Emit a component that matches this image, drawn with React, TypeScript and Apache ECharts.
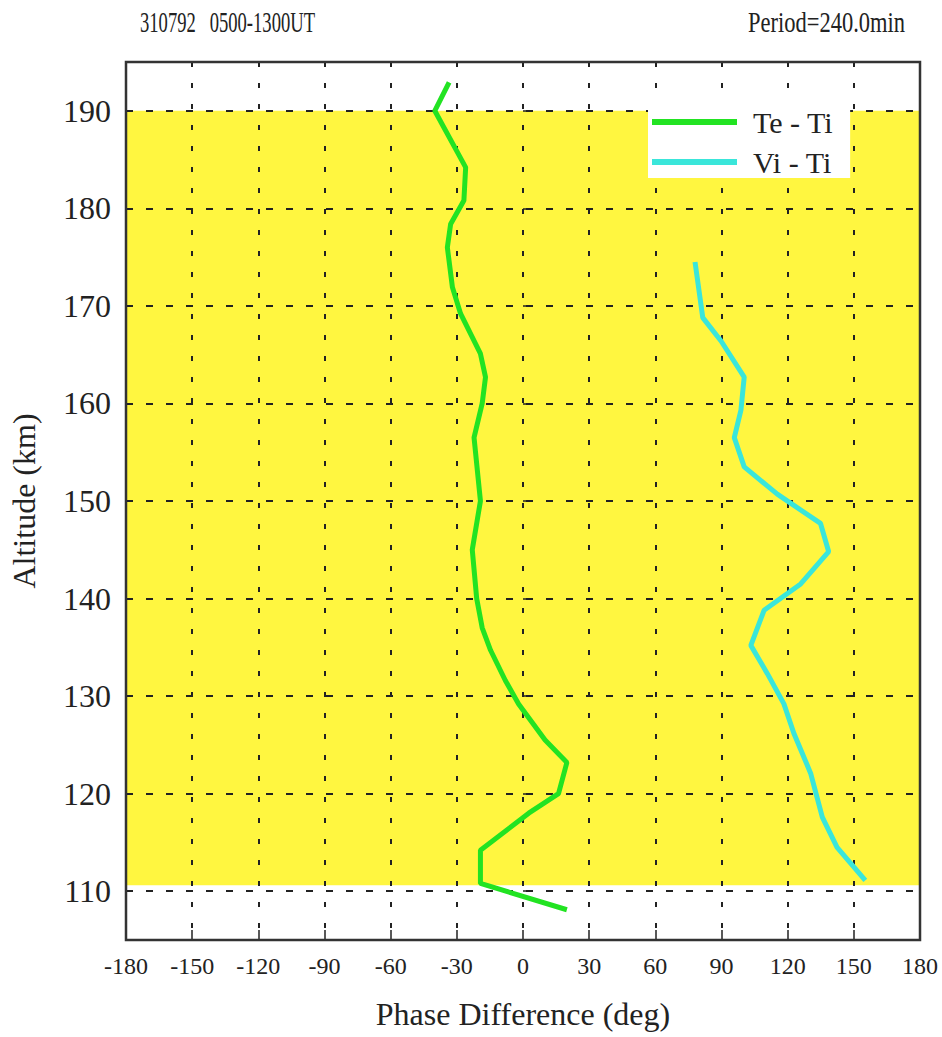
import React, { useEffect, useRef } from 'react';
import * as echarts from 'echarts';

// Altitudes (km) that carry ticks, labels and grid lines
const altitudeTicks = [110, 120, 130, 140, 150, 160, 170, 180, 190];

// Te - Ti phase difference profile (deg) against altitude (km)
const teTiPhase = [-33.5, -40, -26, -26.8, -32.8, -34.3, -32, -28.3, -19.3, -17, -18.5, -22.2, -19.3, -23, -21, -18.5, -14.7, -8, -2, 10, 19.9, 16.1, 2.6, -19.3, -19.3, 19.9];
const teTiAltitude = [192.9, 190, 184.2, 180.8, 178.4, 176, 171.9, 169.2, 165.1, 162.7, 160, 156.5, 150, 145, 140, 137, 134.7, 131.6, 129.2, 125.5, 123.2, 120, 118, 114.2, 110.8, 108.1];

// Vi - Ti phase difference profile (deg) against altitude (km)
const viTiPhase = [78, 81.5, 89.8, 100.3, 98.8, 95.8, 100.3, 115.3, 134.9, 138.6, 125.9, 109.3, 103.3, 110.8, 118.3, 122.8, 130.4, 135.7, 142.4, 155.2];
const viTiAltitude = [174.5, 168.8, 166.4, 162.7, 159.3, 156.5, 153.5, 150.7, 147.7, 144.8, 141.5, 138.8, 135.2, 132.3, 129.2, 126.2, 122.1, 117.6, 114.5, 111.1];

// Altitude range of the shaded band (km)
const bandAltitude = [110.6, 190];

const GREEN = '#22e322';
const CYAN = '#3ae6da';
const YELLOW = '#fff640';
const INK = '#222';
const SERIF = 'Liberation Serif';

export default function App() {
  const ref = useRef<HTMLDivElement>(null);

  useEffect(() => {
    if (!ref.current) return;
    const chart = echarts.init(ref.current, null, { renderer: 'svg' });
    chart.setOption({
      animation: false,
      backgroundColor: '#fff',
      textStyle: { fontFamily: SERIF, color: INK },
      grid: {
        left: 122,
        top: 62,
        width: 798,
        height: 878,
        show: true,
        backgroundColor: 'transparent',
        borderColor: '#333',
        borderWidth: 2.5,
        z: 10,
      },
      graphic: [
        {
          type: 'text',
          x: 140,
          y: 22,
          scaleX: 0.62,
          style: {
            text: '310792   0500-1300UT',
            fontFamily: SERIF,
            fontSize: 30,
            fill: INK,
            align: 'left',
            verticalAlign: 'middle',
          },
        },
        {
          type: 'text',
          x: 905,
          y: 22,
          scaleX: 0.75,
          style: {
            text: 'Period=240.0min',
            fontFamily: SERIF,
            fontSize: 30,
            fill: INK,
            align: 'right',
            verticalAlign: 'middle',
          },
        },
      ],
      legend: {
        orient: 'vertical',
        left: 648,
        top: 104,
        backgroundColor: '#fff',
        padding: [3, 17, 1, 4],
        itemWidth: 85,
        itemHeight: 6,
        itemGap: 10,
        icon: 'rect',
        textStyle: {
          fontFamily: SERIF,
          fontSize: 30,
          color: INK,
          lineHeight: 30,
          padding: [0, 0, 0, 11],
        },
        data: ['Te - Ti', 'Vi - Ti'],
      },
      xAxis: {
        type: 'value',
        min: -180,
        max: 180,
        interval: 30,
        z: 2,
        name: 'Phase Difference (deg)',
        nameLocation: 'middle',
        nameGap: 58,
        nameTextStyle: { fontFamily: SERIF, fontSize: 32, color: INK },
        axisLine: { show: false },
        axisTick: { show: true, inside: true, length: 10, lineStyle: { color: INK, width: 1.5 } },
        axisLabel: { fontFamily: SERIF, fontSize: 24, color: INK, margin: 14 },
        splitLine: { show: true, lineStyle: { color: INK, width: 2, type: [5, 16] } },
      },
      yAxis: {
        type: 'value',
        min: 105,
        max: 195,
        z: 2,
        name: 'Altitude (km)',
        nameLocation: 'middle',
        nameGap: 86,
        nameRotate: 90,
        nameTextStyle: { fontFamily: SERIF, fontSize: 32, color: INK },
        axisLine: { show: false },
        axisTick: {
          show: true,
          inside: true,
          length: 7,
          customValues: altitudeTicks,
          lineStyle: { color: INK, width: 1.5 },
        },
        axisLabel: {
          customValues: altitudeTicks,
          fontFamily: SERIF,
          fontSize: 32,
          color: INK,
          margin: 15,
        },
        splitLine: { show: true, lineStyle: { color: INK, width: 2, type: [7, 13] } },
      },
      series: [
        {
          name: 'Te - Ti',
          type: 'line',
          z: 3,
          data: teTiPhase.map((p, i) => [p, teTiAltitude[i]]),
          symbol: 'none',
          showSymbol: false,
          lineStyle: { color: GREEN, width: 5 },
          itemStyle: { color: GREEN },
          markArea: {
            silent: true,
            z: 1,
            itemStyle: { color: YELLOW },
            data: [[{ yAxis: bandAltitude[0] }, { yAxis: bandAltitude[1] }]],
          },
        },
        {
          name: 'Vi - Ti',
          type: 'line',
          z: 3,
          data: viTiPhase.map((p, i) => [p, viTiAltitude[i]]),
          symbol: 'none',
          showSymbol: false,
          lineStyle: { color: CYAN, width: 5 },
          itemStyle: { color: CYAN },
        },
      ],
    });
    return () => chart.dispose();
  }, []);

  return (
    <div
      ref={ref}
      style={{ position: 'absolute', left: 0, top: 0, width: 942, height: 1037 }}
    />
  );
}
